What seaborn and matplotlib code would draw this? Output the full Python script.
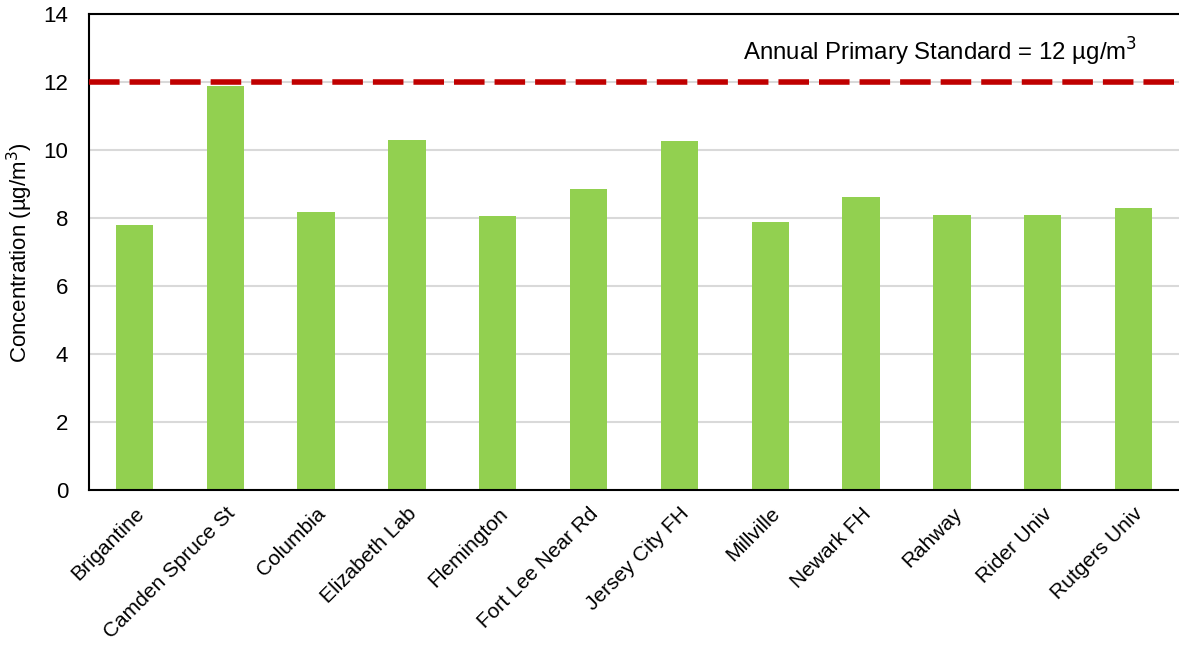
import pandas as pd
import matplotlib.pyplot as plt
import seaborn as sns

# site data (annual mean PM2.5, ug/m3)
sites = ['Brigantine', 'Camden Spruce St', 'Columbia', 'Elizabeth Lab', 'Flemington',
         'Fort Lee Near Rd', 'Jersey City FH', 'Millville', 'Newark FH', 'Rahway',
         'Rider Univ', 'Rutgers Univ']
concentration = [7.81, 11.88, 8.19, 10.29, 8.05, 8.87, 10.26, 7.90, 8.61, 8.10, 8.08, 8.31]
standard = 12

df = pd.DataFrame({'site': sites, 'conc': concentration})

sns.set_theme(style="white")
plt.rcParams['font.family'] = ['Liberation Sans', 'DejaVu Sans']

fig, ax = plt.subplots(figsize=(11.79, 6.45), dpi=100)
sns.barplot(x='site', y='conc', data=df, color='#92D050', saturation=1, width=0.41,
            linewidth=0, ax=ax, zorder=2)

ax.axhline(standard, color='#C00000', linestyle=(0, (5.5, 1.8)), linewidth=4, zorder=3)
ax.text(11.04, 12.42, 'Annual Primary Standard = 12 µg/m$^3$',
        ha='right', va='bottom', fontsize=17.3, color='black')

ax.set_ylim(0, 14)
ax.set_yticks(range(0, 15, 2))
ax.yaxis.grid(True, color='#D9D9D9', linewidth=1.5, zorder=0)
ax.set_axisbelow(True)
ax.set_xlim(-0.5, len(sites) - 0.5)

ax.set_xlabel('')
ax.set_ylabel('Concentration (µg/m$^3$)', fontsize=16, color='black', labelpad=6)
ax.tick_params(axis='y', labelsize=16, colors='black', length=0, pad=15)
ax.tick_params(axis='x', labelsize=15, colors='black', length=0, pad=10)
plt.setp(ax.get_xticklabels(), rotation=45, ha='right', rotation_mode='anchor')

for s in ['left', 'bottom', 'top']:
    ax.spines[s].set_color('black')
    ax.spines[s].set_linewidth(1.5)
ax.spines['right'].set_visible(False)

plt.subplots_adjust(left=0.0755, right=1.0, top=0.978, bottom=0.24)
plt.savefig('out.png')
